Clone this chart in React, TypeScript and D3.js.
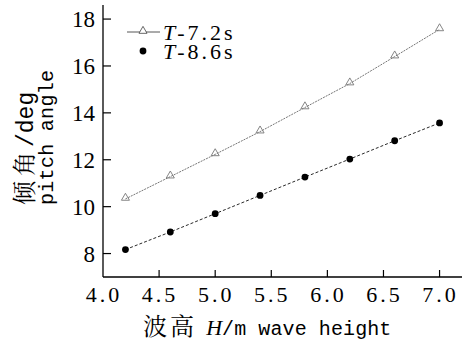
import React from 'react';
import * as d3 from 'd3';

const waveHeights = [4.2, 4.6, 5.0, 5.4, 5.8, 6.2, 6.6, 7.0];
const pitchT72 = [10.33, 11.28, 12.23, 13.2, 14.23, 15.25, 16.4, 17.56];
const pitchT86 = [8.17, 8.92, 9.7, 10.48, 11.26, 12.03, 12.81, 13.57];
const xTicks = [4.0, 4.5, 5.0, 5.5, 6.0, 6.5, 7.0];
const yTicks = [8, 10, 12, 14, 16, 18];

const serif = 'Liberation Serif';
const mono = 'Liberation Mono';
const cjk = 'Noto Serif CJK SC';

const x = d3.scaleLinear().domain([4.0, 7.2]).range([103, 462]);
const y = d3.scaleLinear().domain([7, 18.6]).range([277, 5]);
const line = d3.line<number>().x((_, i) => x(waveHeights[i])).y(d => y(d));
const tri = d3.symbol(d3.symbolTriangle, 28)() as string;

export default function App() {
  const x0 = x(4.0);
  const y0 = y(7);
  return (
    <svg width={463} height={343} style={{ position: 'absolute', left: 0, top: 0, background: '#fff' }}>
      {/* axes, ticks pointing inward */}
      <line x1={x0} x2={x(7.2)} y1={y0} y2={y0} stroke="#000" strokeWidth={1.3} />
      <line x1={x0} x2={x0} y1={y0} y2={y(18.6)} stroke="#000" strokeWidth={1.3} />
      {xTicks.map(t => (
        <g key={t}>
          {t > 4.0 && <line x1={x(t)} x2={x(t)} y1={y0} y2={y0 - 7} stroke="#000" strokeWidth={1.2} />}
          <text x={x(t) + 1} y={y0 + 25} textAnchor="middle" fontFamily={serif} fontSize={22}
            letterSpacing={3} fill="#000">{d3.format('.1f')(t)}</text>
        </g>
      ))}
      {yTicks.map(t => (
        <g key={t}>
          <line x1={x0} x2={x0 + 8} y1={y(t)} y2={y(t)} stroke="#000" strokeWidth={1.2} />
          <text x={x0 - 8} y={y(t) + 8} textAnchor="end" fontFamily={serif} fontSize={23} fill="#000">{t}</text>
        </g>
      ))}

      {/* series */}
      <path d={line(pitchT72) as string} fill="none" stroke="#666" strokeWidth={0.9} strokeDasharray="2,1" />
      <path d={line(pitchT86) as string} fill="none" stroke="#111" strokeWidth={0.9} strokeDasharray="3,2" />
      {pitchT72.map((d, i) => (
        <path key={i} d={tri} transform={`translate(${x(waveHeights[i])},${y(d) - 1})`}
          fill="none" stroke="#777" strokeWidth={0.9} />
      ))}
      {pitchT86.map((d, i) => (
        <circle key={i} cx={x(waveHeights[i])} cy={y(d)} r={3.4} fill="#000" />
      ))}

      {/* legend */}
      <line x1={127} x2={160} y1={32} y2={32} stroke="#444" strokeWidth={0.9} />
      <path d={tri} transform="translate(143,31)" fill="#fff" stroke="#555" strokeWidth={0.9} />
      <circle cx={143} cy={51} r={3.4} fill="#000" />
      <text x={163} y={40} fontFamily={serif} fontSize={22} fill="#000">
        <tspan fontFamily={serif} fontStyle="italic">T</tspan>
        <tspan fontFamily={serif} letterSpacing={3} dx={2}>-7.2s</tspan>
      </text>
      <text x={163} y={59} fontFamily={serif} fontSize={22} fill="#000">
        <tspan fontFamily={serif} fontStyle="italic">T</tspan>
        <tspan fontFamily={serif} letterSpacing={3} dx={2}>-8.6s</tspan>
      </text>

      {/* y label */}
      <g transform="translate(0,205) rotate(-90)">
        <text x={0} y={33} fill="#000">
          <tspan fontFamily={cjk} fontSize={24} letterSpacing={5}>倾角</tspan>
          <tspan fontFamily={mono} fontSize={23}>/deg</tspan>
        </text>
        <text x={0} y={53} fontFamily={mono} fontSize={20} letterSpacing={0.3} fill="#000">pitch angle</text>
      </g>

      {/* x label */}
      <text x={143} y={335} fill="#000">
        <tspan fontFamily={cjk} fontSize={24} letterSpacing={3}>波高 </tspan>
        <tspan fontFamily={serif} fontSize={22} fontStyle="italic">H</tspan>
        <tspan fontFamily={mono} fontSize={20} letterSpacing={0.1}>/m wave height</tspan>
      </text>
    </svg>
  );
}
